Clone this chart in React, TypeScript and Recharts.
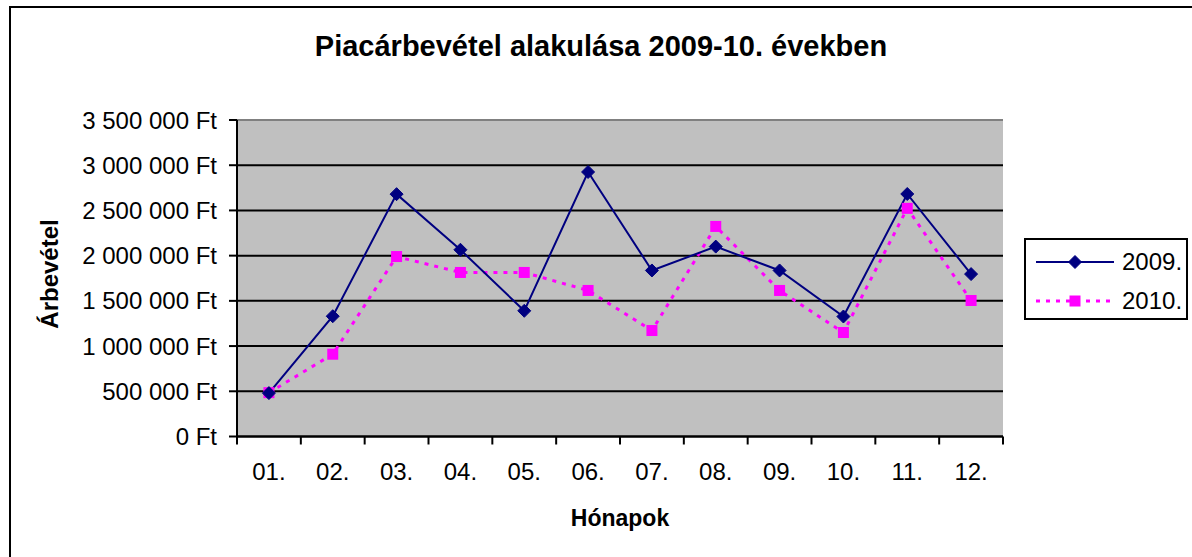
import { CartesianGrid, Line, LineChart, ReferenceLine, XAxis, YAxis } from 'recharts';

const months = ['01.', '02.', '03.', '04.', '05.', '06.', '07.', '08.', '09.', '10.', '11.', '12.'];
const rev2009 = [480000, 1330000, 2680000, 2065000, 1390000, 2925000, 1836000, 2100000, 1836000, 1327000, 2682000, 1796000];
const rev2010 = [485000, 910000, 1990000, 1814000, 1814000, 1615000, 1172000, 2323000, 1615000, 1150000, 2523000, 1504000];
const yTicks = [0, 500000, 1000000, 1500000, 2000000, 2500000, 3000000, 3500000];
const seriesNames = ['2009.', '2010.'];

const W = 1192;
const H = 557;
const PLOT_L = 237;
const PLOT_R = 1003;
const PLOT_T = 120;
const PLOT_B = 436.5;
const BAND = (PLOT_R - PLOT_L) / months.length;
const FONT = '"Liberation Sans", Arial, sans-serif';

const data = months.map((m, i) => ({ month: m, a: rev2009[i], b: rev2010[i] }));

const fmtFt = (v: number) => String(v).replace(/\B(?=(\d{3})+(?!\d))/g, ' ') + ' Ft';

function Diamond(props: any) {
  const { cx, cy } = props;
  if (cx == null || cy == null) return null;
  const r = 6.5;
  return (
    <polygon
      points={`${cx},${cy - r} ${cx + r},${cy} ${cx},${cy + r} ${cx - r},${cy}`}
      fill="#000080"
      stroke="#000080"
      strokeWidth={1}
    />
  );
}

function Square(props: any) {
  const { cx, cy } = props;
  if (cx == null || cy == null) return null;
  return <rect x={cx - 5.5} y={cy - 5.5} width={11} height={11} fill="#FF00FF" />;
}

function MonthTick(props: any) {
  const { x, payload, index } = props;
  const last = index === months.length - 1;
  return (
    <g>
      <line x1={x - BAND / 2} x2={x - BAND / 2} y1={PLOT_B} y2={PLOT_B + 8} stroke="#000" strokeWidth={2} />
      {last && <line x1={x + BAND / 2} x2={x + BAND / 2} y1={PLOT_B} y2={PLOT_B + 8} stroke="#000" strokeWidth={2} />}
      <text x={x} y={PLOT_B + 37} textAnchor="middle" dominantBaseline="middle" fontSize={24} fontFamily={FONT} fill="#000">
        {payload.value}
      </text>
    </g>
  );
}

function LegendBox() {
  return (
    <div
      style={{
        position: 'absolute',
        left: 1024,
        top: 238,
        width: 160,
        height: 78,
        border: '2px solid #000',
        background: '#fff',
        fontFamily: FONT,
        fontSize: 24,
      }}
    >
      {seriesNames.map((name, i) => (
        <div key={name} style={{ position: 'absolute', left: 8, top: i === 0 ? 8 : 47, height: 28, display: 'flex', alignItems: 'center' }}>
          <svg width={82} height={20}>
            {i === 0 ? (
              <>
                <line x1={2} x2={80} y1={10} y2={10} stroke="#000080" strokeWidth={2} />
                <Diamond cx={41} cy={10} />
              </>
            ) : (
              <>
                <line x1={2} x2={80} y1={10} y2={10} stroke="#FF00FF" strokeWidth={3} strokeDasharray="4 6" />
                <Square cx={41} cy={10} />
              </>
            )}
          </svg>
          <span style={{ marginLeft: 6 }}>{name}</span>
        </div>
      ))}
    </div>
  );
}

export default function App() {
  return (
    <div style={{ position: 'absolute', left: 0, top: 0, width: W, height: H, overflow: 'hidden', background: '#fff' }}>
      <div
        style={{
          position: 'absolute',
          left: 9,
          top: 6,
          width: W + 20,
          height: H + 20,
          border: '2px solid #000',
          boxSizing: 'border-box',
        }}
      />
      <div
        style={{
          position: 'absolute',
          left: 601,
          top: 46,
          transform: 'translate(-50%, -50%)',
          whiteSpace: 'nowrap',
          fontFamily: FONT,
          fontWeight: 'bold',
          fontSize: 29,
        }}
      >
        Piacárbevétel alakulása 2009-10. években
      </div>
      <div
        style={{
          position: 'absolute',
          left: 50,
          top: 274,
          transform: 'translate(-50%, -50%) rotate(-90deg)',
          fontFamily: FONT,
          fontWeight: 'bold',
          fontSize: 24,
          whiteSpace: 'nowrap',
        }}
      >
        Árbevétel
      </div>
      <div
        style={{
          position: 'absolute',
          left: 620,
          top: 518,
          transform: 'translate(-50%, -50%)',
          fontFamily: FONT,
          fontWeight: 'bold',
          fontSize: 23,
        }}
      >
        Hónapok
      </div>
      <div style={{ position: 'absolute', left: 0, top: 0 }}>
        <LineChart width={W} height={H} data={data} margin={{ top: PLOT_T, right: W - PLOT_R, bottom: 0, left: 0 }}>
          <CartesianGrid fill="#C0C0C0" vertical={false} stroke="#000" strokeWidth={2} />
          <XAxis
            dataKey="month"
            height={H - PLOT_B}
            padding={{ left: BAND / 2, right: BAND / 2 }}
            axisLine={{ stroke: '#000', strokeWidth: 2 }}
            tickLine={false}
            tick={<MonthTick />}
            interval={0}
          />
          <YAxis
            width={PLOT_L}
            domain={[0, 3500000]}
            ticks={yTicks}
            tickFormatter={fmtFt}
            axisLine={{ stroke: '#000', strokeWidth: 2 }}
            tickLine={{ stroke: '#000', strokeWidth: 2 }}
            tickSize={8}
            tickMargin={12}
            tick={{ fontSize: 24, fontFamily: FONT, fill: '#000' }}
            interval={0}
          />
          <YAxis yAxisId="r" orientation="right" width={0} tick={false} axisLine={{ stroke: '#808080', strokeWidth: 2 }} tickLine={false} />
          <ReferenceLine y={3500000} stroke="#808080" strokeWidth={2} />
          <Line
            dataKey="b"
            name={seriesNames[1]}
            stroke="#FF00FF"
            strokeWidth={3}
            strokeDasharray="4 6"
            dot={<Square />}
            activeDot={false}
            isAnimationActive={false}
          />
          <Line
            dataKey="a"
            name={seriesNames[0]}
            stroke="#000080"
            strokeWidth={2}
            dot={<Diamond />}
            activeDot={false}
            isAnimationActive={false}
          />
        </LineChart>
      </div>
      <LegendBox />
    </div>
  );
}
